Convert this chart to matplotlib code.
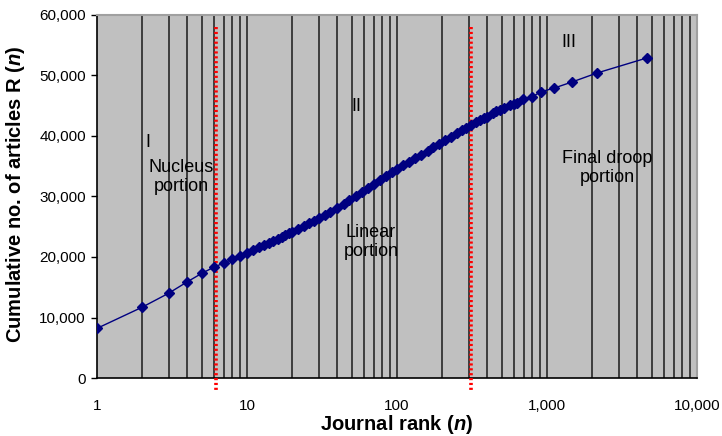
import numpy as np
import matplotlib
matplotlib.use('Agg')
import matplotlib.pyplot as plt
from matplotlib.ticker import FixedLocator, FuncFormatter, NullLocator

plt.rcParams['font.family'] = ['Liberation Sans', 'DejaVu Sans']
plt.rcParams['mathtext.fontset'] = 'custom'
plt.rcParams['mathtext.it'] = 'Liberation Sans:italic'
plt.rcParams['mathtext.bf'] = 'Liberation Sans:bold'
plt.rcParams['mathtext.bfit'] = 'Liberation Sans:bold:italic'

# journal rank vs cumulative articles
rank = [1, 2, 3, 4, 5, 6, 7, 8, 9, 10, 11, 12, 13, 14, 15, 16, 17, 18, 19, 20,
        22, 24, 26, 28, 30, 33, 36, 40, 44, 48, 53, 58, 64, 70, 77, 85, 92, 100,
        110, 120, 132, 145, 160, 175, 192, 210, 230, 250, 270, 290, 311,
        335, 357, 380, 400, 435, 460, 484, 520, 567, 600, 631,
        690, 794, 910, 1110, 1460, 2150, 4640]
articles = [8200, 11700, 14000, 15900, 17300, 18300, 19000, 19650, 20200, 20700,
            21150, 21590, 21980, 22360, 22710, 23040, 23360, 23640, 23920, 24180,
            24660, 25140, 25600, 26020, 26410, 26960, 27440, 28040, 28710, 29340,
            30070, 30720, 31420, 32050, 32730, 33440, 34020, 34550,
            35160, 35720, 36330, 36930, 37560, 38150, 38730, 39310, 39900, 40430,
            40930, 41390, 41820,
            42250, 42650, 42980, 43200, 43800, 44050, 44300, 44700, 45100, 45300, 45450,
            46100, 46450, 47300, 47900, 48900, 50400, 52900]

zone_limits = [6.2, 312]
grid_x = [m * 10 ** d for d in range(4) for m in range(2, 10)] + [10, 100, 1000]
x_ticks = [1, 10, 100, 1000, 10000]
y_ticks = [0, 10000, 20000, 30000, 40000, 50000, 60000]

fig = plt.figure(figsize=(7.22, 4.36), dpi=100)
ax = fig.add_axes([0.1343, 0.133, 0.8311, 0.8327])
ax.set_facecolor('#c0c0c0')
ax.set_xscale('log')
ax.set_xlim(1, 10000)
ax.set_ylim(0, 60000)

for gx in grid_x:
    ax.axvline(gx, color='#1a1a1a', linewidth=1.1, zorder=1)

for zx in zone_limits:
    ax.plot([zx, zx], [58000, -2200], color='red', linewidth=2.6,
            linestyle=(0, (0.6, 0.75)), clip_on=False, zorder=3)

ax.plot(rank, articles, color='#000080', linewidth=1.0, marker='D',
        markersize=5.5, zorder=4)

ax.xaxis.set_major_locator(FixedLocator(x_ticks))
ax.xaxis.set_minor_locator(NullLocator())
ax.xaxis.set_major_formatter(FuncFormatter(lambda v, p: f'{int(v):,}'))
ax.yaxis.set_major_locator(FixedLocator(y_ticks))
ax.yaxis.set_major_formatter(FuncFormatter(lambda v, p: f'{int(v):,}'))
ax.tick_params(axis='x', length=0, pad=15, labelsize=11)
ax.tick_params(axis='y', length=4, width=1, direction='out', labelsize=11, pad=4)

for side in ['top', 'right']:
    ax.spines[side].set_color('#a0a0a0')
    ax.spines[side].set_linewidth(1.5)
for side in ['left', 'bottom']:
    ax.spines[side].set_color('black')
    ax.spines[side].set_linewidth(1.2)

ax.set_xlabel(r'Journal rank ($\mathbfit{n}$)', fontsize=14.5, fontweight='bold')
ax.xaxis.set_label_coords(0.5, -0.097)
ax.set_ylabel(r'Cumulative no. of articles R ($\mathbfit{n}$)', fontsize=14.5,
              fontweight='bold')
ax.yaxis.set_label_coords(-0.117, 0.505)

tk = dict(fontsize=13, ha='center', va='center', zorder=5)
ax.text(2.2, 39000, 'I', **tk)
ax.text(3.63, 33200, 'Nucleus\nportion', linespacing=1.1, **tk)
ax.text(54, 44800, 'II', **tk)
ax.text(67, 22480, 'Linear\nportion', linespacing=1.1, **tk)
ax.text(1390, 55400, 'III', **tk)
ax.text(2512, 34700, 'Final droop\nportion', linespacing=1.1, **tk)

fig.savefig('out.png', dpi=100)
